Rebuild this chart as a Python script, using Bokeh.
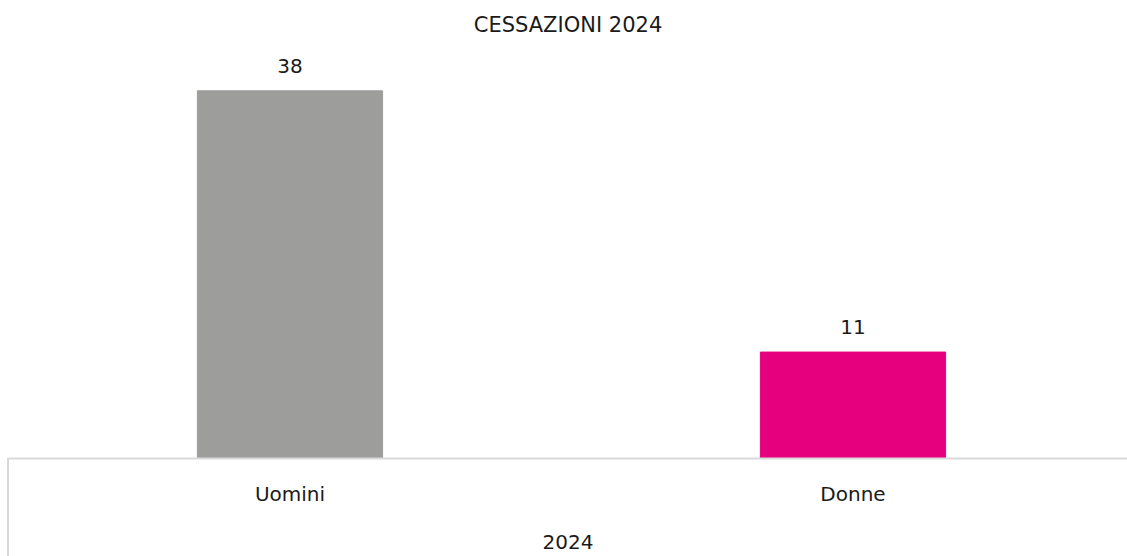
from bokeh.plotting import figure
from bokeh.models import ColumnDataSource, Range1d, LabelSet, FixedTicker
from bokeh.core.properties import value
from bokeh.embed import file_html
from bokeh.resources import INLINE

year = "2024"
categories = ["Uomini", "Donne"]
values = [38, 11]
colors = ["#9d9d9c", "#e6007e"]
title_text = "CESSAZIONI 2024"

FONT = "DejaVu Sans"
TXT = "#1a1a1a"
LINE = "#d9d9d9"

xpos = [i + 0.5 for i in range(len(categories))]
source = ColumnDataSource(dict(
    x=xpos,
    cat=categories,
    v=values,
    c=colors,
    lbl=[str(v) for v in values],
))

p = figure(
    x_range=Range1d(0, 1.9876),
    y_range=Range1d(0, 43.2),
    width=1127, height=556,
    output_backend="svg", toolbar_location=None,
    title=title_text,
    min_border_left=8, min_border_right=0, min_border_top=40, min_border_bottom=98,
)
p.title.align = "center"
p.title.text_font = FONT
p.title.text_font_size = "21px"
p.title.text_font_style = "normal"
p.title.text_color = TXT
p.title.standoff = 8
p.title.offset = 3

p.vbar(x="x", top="v", width=0.329, color="c", source=source)

labels = LabelSet(x="x", y="v", text="lbl", source=source,
                  text_align="center", text_baseline="bottom", y_offset=18,
                  text_font=value(FONT), text_font_size="20px", text_color=TXT)
p.add_layout(labels)

p.yaxis.visible = False
p.ygrid.visible = False
p.xgrid.visible = False
p.outline_line_color = None

ax = p.xaxis[0]
ax.ticker = FixedTicker(ticks=xpos)
ax.major_label_overrides = {x: c for x, c in zip(xpos, categories)}
ax.axis_label = year
ax.axis_line_color = LINE
ax.axis_line_width = 2
ax.major_tick_line_color = None
ax.minor_tick_line_color = None
ax.major_label_text_font = FONT
ax.major_label_text_font_size = "20px"
ax.major_label_text_color = TXT
ax.axis_label_text_font = FONT
ax.axis_label_text_font_size = "20px"
ax.axis_label_text_color = TXT
ax.axis_label_text_font_style = "normal"
ax.major_label_standoff = 17
ax.axis_label_standoff = 26

# left border of the category-axis box (bottom-left), drawn as a CSS background
p.border_fill_alpha = 0
p.background_fill_alpha = 0
p.styles = {
    "background-color": "white",
    "background-image": f"linear-gradient({LINE}, {LINE})",
    "background-size": "2px 98px",
    "background-position": "7px bottom",
    "background-repeat": "no-repeat",
}

open("out.html", "w").write(file_html(p, INLINE))
